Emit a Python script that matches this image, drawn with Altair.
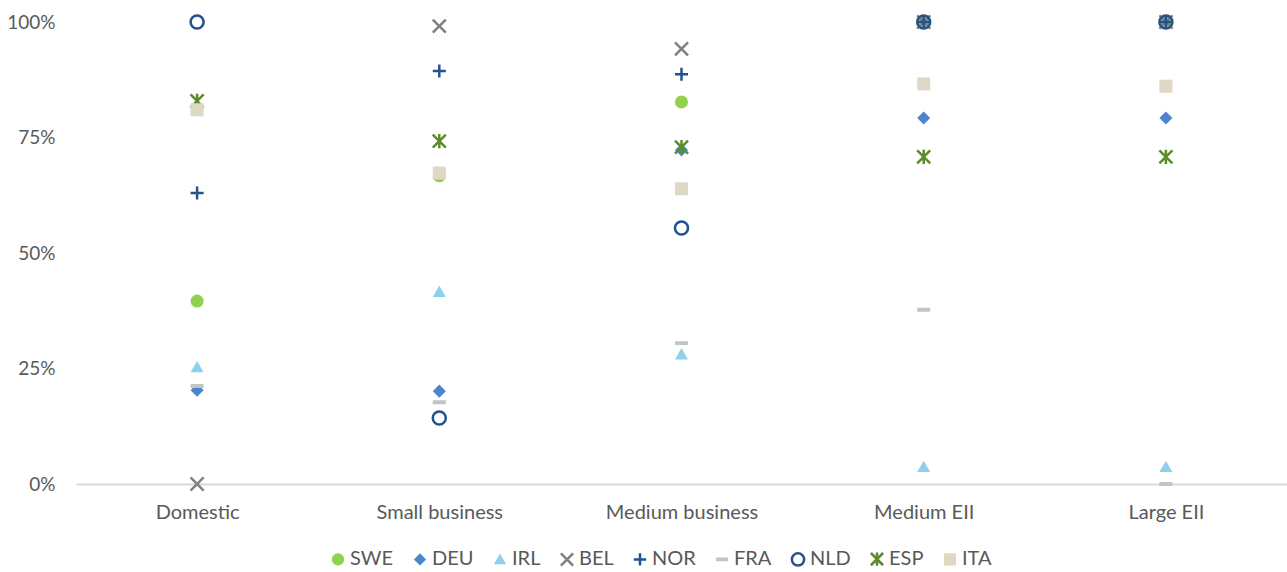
import altair as alt
import pandas as pd

categories = ["Domestic", "Small business", "Medium business", "Medium EII", "Large EII"]
countries = ["SWE", "DEU", "IRL", "BEL", "NOR", "FRA", "NLD", "ESP", "ITA"]

# values per country, in category order
values = {
    "SWE": [0.396, 0.667, 0.827, 1.00, 1.00],
    "DEU": [0.203, 0.201, 0.723, 0.792, 0.792],
    "IRL": [0.253, 0.416, 0.281, 0.037, 0.037],
    "BEL": [0.00, 0.991, 0.942, 1.00, 1.00],
    "NOR": [0.630, 0.894, 0.887, 1.00, 1.00],
    "FRA": [0.212, 0.177, 0.305, 0.377, 0.00],
    "NLD": [1.00, 0.143, 0.554, 1.00, 1.00],
    "ESP": [0.829, 0.742, 0.729, 0.708, 0.708],
    "ITA": [0.810, 0.673, 0.639, 0.866, 0.861],
}

shapes = [
    "circle",
    "diamond",
    "M0,-0.95L1,0.8L-1,0.8Z M0,-1L0,-1 M0,1L0,1",
    "M-1,-1L1,1M-1,1L1,-1",
    "M-1,0L1,0M0,-1L0,1",
    "M-1,-0.3L1,-0.3L1,0.3L-1,0.3Z M0,-1L0,-1 M0,1L0,1",
    "circle",
    "M-1,-1L1,1M-1,1L1,-1M0,-1.1L0,1.1",
    "square",
]
fills = ["#92D050", "#4A86D0", "#8ED1EF", "transparent", "transparent",
         "#C4C4C4", "transparent", "transparent", "#DDD9C4"]
strokes = ["transparent", "transparent", "transparent", "#808080", "#24528C",
           "transparent", "#24528C", "#5B8C2A", "transparent"]

rows = []
for c in countries:
    for cat, v in zip(categories, values[c]):
        if v is not None:
            rows.append({"country": c, "category": cat, "value": v})
df = pd.DataFrame(rows)

leg = alt.Legend(title=None, orient="none", legendX=252, legendY=527,
                 direction="horizontal", columns=9)

chart = alt.Chart(df).mark_point(strokeWidth=2.5, size=170, opacity=1).encode(
    x=alt.X("category:N", sort=categories, title=None,
            scale=alt.Scale(paddingInner=0, paddingOuter=0),
            axis=alt.Axis(labelAngle=0, ticks=False, labelPadding=18,
                          domainColor="#D9D9D9", domainWidth=2,
                          labelFontSize=20, labelColor="#595959",
                          labelFont="Lato", grid=False)),
    y=alt.Y("value:Q", title=None, scale=alt.Scale(domain=[0, 1], nice=False),
            axis=alt.Axis(values=[0, 0.25, 0.5, 0.75, 1], format=".0%",
                          domain=False, ticks=False, grid=False,
                          labelFontSize=19, labelColor="#595959",
                          labelFont="Lato", labelPadding=21)),
    shape=alt.Shape("country:N", scale=alt.Scale(domain=countries, range=shapes), legend=leg),
    fill=alt.Fill("country:N", scale=alt.Scale(domain=countries, range=fills), legend=leg),
    stroke=alt.Stroke("country:N", scale=alt.Scale(domain=countries, range=strokes), legend=leg),
    order=alt.Order("ord:Q"),
).transform_calculate(
    ord="indexof(" + str(countries) + ", datum.country)"
).properties(
    width=1211, height=462,
    autosize=alt.AutoSizeParams(type="none"),
    padding={"left": 76, "top": 22, "right": 0, "bottom": 88},
).configure_view(stroke=None).configure_legend(
    labelFontSize=20, labelColor="#595959", labelFont="Lato",
    symbolSize=150, symbolStrokeWidth=2.5, columnPadding=14, labelOffset=2,
)

chart.save("out.html", embed_options={"renderer": "svg", "actions": False})
